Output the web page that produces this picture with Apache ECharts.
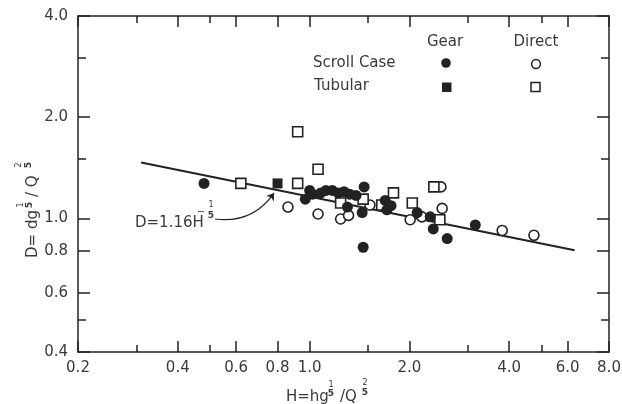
<!DOCTYPE html>
<html>
<head>
<meta charset="utf-8">
<script src="https://cdn.jsdelivr.net/npm/echarts@6/dist/echarts.min.js"></script>
<style>
  html, body { margin: 0; padding: 0; background: #fff; }
  #chart { width: 622px; height: 404px; }
</style>
</head>
<body>
<div id="chart"></div>
<script>
// Dimensionless head H = h g^(1/5) / Q^(2/5) against diameter D = d g^(1/5) / Q^(2/5)
// Each point is [H, D].
const scrollCaseGear = [
  [0.48, 1.27], [0.97, 1.14], [1.00, 1.21], [1.02, 1.18], [1.08, 1.19],
  [1.12, 1.21], [1.17, 1.21], [1.22, 1.19], [1.27, 1.20], [1.32, 1.18],
  [1.38, 1.17], [1.30, 1.08], [1.44, 1.04], [1.46, 1.24], [1.69, 1.13],
  [1.71, 1.06], [1.76, 1.09], [2.11, 1.04], [2.31, 1.01], [2.36, 0.93],
  [2.60, 0.87], [3.16, 0.955], [1.45, 0.82]
];
const scrollCaseDirect = [
  [0.86, 1.08], [1.06, 1.03], [1.24, 0.995], [1.31, 1.02], [1.52, 1.095],
  [2.01, 0.99], [2.18, 1.01], [2.51, 1.07], [2.49, 1.24], [3.81, 0.92],
  [4.75, 0.89]
];
const tubularGear = [[0.80, 1.27]];
const tubularDirect = [
  [0.62, 1.27], [0.92, 1.81], [0.92, 1.27], [1.06, 1.40], [1.24, 1.11],
  [1.45, 1.14], [1.65, 1.095], [1.79, 1.19], [2.04, 1.11], [2.37, 1.24],
  [2.47, 0.99]
];

// Fitted curve D = 1.16 H^(-1/5), drawn between its two end points
const fitLine = [[0.31, 1.466], [6.3, 0.803]];
// Leader from the equation label to the curve
const fitLeader = [[0.518, 0.995], [0.781, 1.189]];

// Axis ticks
const xLabelTicks = [0.2, 0.4, 0.6, 0.8, 1.0, 2.0, 4.0, 6.0, 8.0];
const xMinorTicks = [0.3, 0.5, 1.5, 3.0, 5.0];
const yLabelTicks = [0.4, 0.6, 0.8, 1.0, 2.0, 4.0];
const yMinorTicks = [0.5, 1.5, 3.0];

const ink = '#222222';
const textInk = '#3a3a3a';
const fontFamily = 'DejaVu Sans';

function logAxis(kind, position, ticks, tickLen, withLine, withLabels) {
  const range = kind === 'x' ? { min: 0.2, max: 8 } : { min: 0.4, max: 4 };
  return Object.assign({
    type: 'log',
    logBase: 10,
    position: position,
    axisLine: { show: withLine, onZero: false, lineStyle: { color: ink, width: 1.5 } },
    axisTick: { show: true, inside: true, length: tickLen, customValues: ticks,
                lineStyle: { color: ink, width: 1.5 } },
    axisLabel: withLabels ? {
      show: true, customValues: ticks, color: textInk, fontFamily: fontFamily,
      fontSize: 15, margin: kind === 'x' ? 9 : 10,
      formatter: v => Number(v).toFixed(1)
    } : { show: false },
    splitLine: { show: false },
    minorTick: { show: false },
    minorSplitLine: { show: false }
  }, range);
}

const chart = echarts.init(document.getElementById('chart'), null, { renderer: 'canvas' });

const legendFont = '15px "' + fontFamily + '"';

chart.setOption({
  animation: false,
  backgroundColor: '#ffffff',
  grid: { left: 78, right: 13, top: 16, bottom: 52, containLabel: false, outerBoundsMode: 'none' },
  xAxis: [
    logAxis('x', 'bottom', xLabelTicks, 11, true, true),
    logAxis('x', 'bottom', xMinorTicks, 7, false, false),
    logAxis('x', 'top', xLabelTicks, 11, true, false),
    logAxis('x', 'top', xMinorTicks, 7, false, false)
  ],
  yAxis: [
    logAxis('y', 'left', yLabelTicks, 12, true, true),
    logAxis('y', 'left', yMinorTicks, 8, false, false),
    logAxis('y', 'right', yLabelTicks, 12, true, false),
    logAxis('y', 'right', yMinorTicks, 8, false, false)
  ],
  series: [
    {
      name: 'D = 1.16 H^-1/5', type: 'line', data: fitLine, symbol: 'none',
      lineStyle: { color: ink, width: 2 }, z: 2
    },
    {
      name: 'leader', type: 'lines', coordinateSystem: 'cartesian2d',
      data: [{ coords: fitLeader }],
      symbol: ['none', 'arrow'], symbolSize: 7,
      lineStyle: { color: ink, width: 1.2, opacity: 1, curveness: -0.3 }, z: 2
    },
    {
      name: 'Scroll Case Direct', type: 'scatter', data: scrollCaseDirect,
      symbol: 'circle', symbolSize: 10,
      itemStyle: { color: '#ffffff', borderColor: ink, borderWidth: 1.6, opacity: 1 }, z: 3
    },
    {
      name: 'Tubular Direct', type: 'scatter', data: tubularDirect,
      symbol: 'rect', symbolSize: 10,
      itemStyle: { color: '#ffffff', borderColor: ink, borderWidth: 1.6, opacity: 1 }, z: 3
    },
    {
      name: 'Scroll Case Gear', type: 'scatter', data: scrollCaseGear,
      symbol: 'circle', symbolSize: 11,
      itemStyle: { color: ink, opacity: 1 }, z: 4
    },
    {
      name: 'Tubular Gear', type: 'scatter', data: tubularGear,
      symbol: 'rect', symbolSize: 10,
      itemStyle: { color: ink, opacity: 1 }, z: 4
    }
  ],
  graphic: [
    // legend block
    { type: 'text', x: 445, y: 42, style: { text: 'Gear', font: legendFont, fill: textInk, align: 'center', verticalAlign: 'middle' } },
    { type: 'text', x: 536, y: 42, style: { text: 'Direct', font: legendFont, fill: textInk, align: 'center', verticalAlign: 'middle' } },
    { type: 'text', x: 313, y: 63, style: { text: 'Scroll Case', font: legendFont, fill: textInk, align: 'left', verticalAlign: 'middle' } },
    { type: 'text', x: 314, y: 86, style: { text: 'Tubular', font: legendFont, fill: textInk, align: 'left', verticalAlign: 'middle' } },
    { type: 'circle', shape: { cx: 446, cy: 63, r: 4.8 }, style: { fill: ink } },
    { type: 'circle', shape: { cx: 536, cy: 64, r: 4.4 }, style: { fill: '#fff', stroke: ink, lineWidth: 1.5 } },
    { type: 'rect', shape: { x: 442, y: 82.5, width: 9.5, height: 9.5 }, style: { fill: ink } },
    { type: 'rect', shape: { x: 531, y: 82.5, width: 9, height: 9 }, style: { fill: '#fff', stroke: ink, lineWidth: 1.5 } },

    // equation label
    { type: 'text', x: 135, y: 223, style: { text: 'D=1.16H', font: '15px "' + fontFamily + '"', fill: textInk, align: 'left', verticalAlign: 'middle' } },
    { type: 'text', x: 201, y: 212, style: { text: '\u2212', font: '10px "' + fontFamily + '"', fill: textInk, align: 'center', verticalAlign: 'middle' } },
    { type: 'text', x: 211, y: 205, style: { text: '1', font: '8px "' + fontFamily + '"', fill: textInk, align: 'center', verticalAlign: 'middle' } },
    { type: 'text', x: 211, y: 216, style: { text: '5', font: 'bold 9px "' + fontFamily + '"', fill: textInk, align: 'center', verticalAlign: 'middle' } },

    // x axis title: H = h g^(1/5) / Q^(2/5)
    {
      type: 'group', x: 286, y: 397,
      children: [
        { type: 'text', x: 0, y: 0, style: { text: 'H=hg', font: '15px "' + fontFamily + '"', fill: textInk, align: 'left', verticalAlign: 'middle' } },
        { type: 'text', x: 45, y: -12, style: { text: '1', font: '8px "' + fontFamily + '"', fill: textInk, align: 'center', verticalAlign: 'middle' } },
        { type: 'text', x: 45, y: -3, style: { text: '5', font: 'bold 9px "' + fontFamily + '"', fill: textInk, align: 'center', verticalAlign: 'middle' } },
        { type: 'text', x: 54, y: 0, style: { text: '/Q', font: '15px "' + fontFamily + '"', fill: textInk, align: 'left', verticalAlign: 'middle' } },
        { type: 'text', x: 79, y: -14, style: { text: '2', font: '8px "' + fontFamily + '"', fill: textInk, align: 'center', verticalAlign: 'middle' } },
        { type: 'text', x: 79, y: -4, style: { text: '5', font: 'bold 9px "' + fontFamily + '"', fill: textInk, align: 'center', verticalAlign: 'middle' } }
      ]
    },

    // y axis title: D = d g^(1/5) / Q^(2/5), reading upward
    {
      type: 'group', x: 33, y: 258, rotation: Math.PI / 2,
      children: [
        { type: 'text', x: 0, y: 0, style: { text: 'D= dg', font: '15px "' + fontFamily + '"', fill: textInk, align: 'left', verticalAlign: 'middle' } },
        { type: 'text', x: 53, y: -12, style: { text: '1', font: '8px "' + fontFamily + '"', fill: textInk, align: 'center', verticalAlign: 'middle' } },
        { type: 'text', x: 53, y: -3, style: { text: '5', font: 'bold 9px "' + fontFamily + '"', fill: textInk, align: 'center', verticalAlign: 'middle' } },
        { type: 'text', x: 61, y: 0, style: { text: '/ Q', font: '15px "' + fontFamily + '"', fill: textInk, align: 'left', verticalAlign: 'middle' } },
        { type: 'text', x: 93, y: -14, style: { text: '2', font: '8px "' + fontFamily + '"', fill: textInk, align: 'center', verticalAlign: 'middle' } },
        { type: 'text', x: 93, y: -4, style: { text: '5', font: 'bold 9px "' + fontFamily + '"', fill: textInk, align: 'center', verticalAlign: 'middle' } }
      ]
    }
  ]
});
</script>
</body>
</html>
